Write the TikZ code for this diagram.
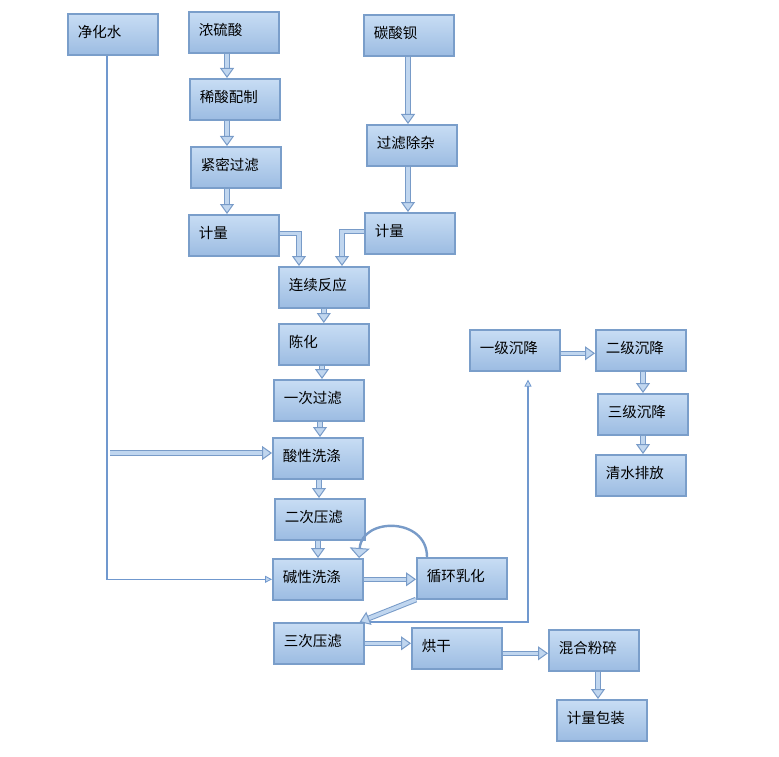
\documentclass[tikz,border=0pt]{standalone}
\usepackage{fontspec}
\newfontfamily\cjk{Noto Sans CJK SC}
\usetikzlibrary{arrows.meta}
\definecolor{boxborder}{RGB}{122,158,202}
\definecolor{boxtop}{RGB}{200,221,244}
\definecolor{boxbot}{RGB}{156,188,226}
\definecolor{arrborder}{RGB}{120,155,200}
\definecolor{arrfill}{RGB}{192,214,239}
\definecolor{thinline}{RGB}{112,152,206}
\tikzset{
  box/.style={draw=boxborder, line width=1.6pt, top color=boxtop, bottom color=boxbot,
    minimum width=90pt, minimum height=41pt, text width=70pt, inner xsep=10pt, inner ysep=0pt,
    align=left, anchor=north west, font=\cjk\fontsize{14.5}{17}\selectfont,
    text height=12pt, text depth=6pt},
  hollow/.style={draw=arrborder, line width=1pt, double=arrfill, double distance=3.6pt,
    -{Triangle[length=10pt,width=14pt,fill=arrfill,line width=1pt]}},
  arcarrow/.style={draw=arrborder, line width=2.4pt,
    -{Triangle[length=10pt,width=20pt,fill=arrfill,line width=1pt]}},
  thinarrow/.style={draw=thinline, line width=1.5pt,
    -{Triangle[length=7pt,width=7pt,fill=arrfill,line width=0.8pt]}},
}
\begin{document}
\begin{tikzpicture}[x=1pt,y=-1pt]
\useasboundingbox (0,0) rectangle (779,757);
% boxes
\node[box] (jh) at (67,13) {净化水};
\node[box] (ns) at (188,11) {浓硫酸};
\node[box] (tb) at (363,14) {碳酸钡};
\node[box] (xs) at (189,78) {稀酸配制};
\node[box] (gl) at (366,124) {过滤除杂};
\node[box] (jm) at (190,146) {紧密过滤};
\node[box] (jl1) at (188,214) {计量};
\node[box] (jl2) at (364,212) {计量};
\node[box] (lx) at (278,266) {连续反应};
\node[box] (ch) at (278,323) {陈化};
\node[box] (yc) at (273,379) {一次过滤};
\node[box] (sx) at (272,437) {酸性洗涤};
\node[box] (ec) at (274,498) {二次压滤};
\node[box] (jx) at (272,558) {碱性洗涤};
\node[box] (xh) at (416,557) {循环乳化};
\node[box] (sc) at (273,622) {三次压滤};
\node[box] (hg) at (411,627) {烘干};
\node[box] (hh) at (548,629) {混合粉碎};
\node[box] (jb) at (556,699) {计量包装};
\node[box] (y1) at (469,329) {一级沉降};
\node[box] (y2) at (595,329) {二级沉降};
\node[box] (y3) at (597,393) {三级沉降};
\node[box] (qs) at (595,454) {清水排放};
% column coordinates
\coordinate (cA) at (227,0);
\coordinate (cB) at (408,0);
\coordinate (cC) at (299,0);
\coordinate (cD) at (342,0);
\coordinate (cE) at (322,0);
\coordinate (cF) at (320,0);
\coordinate (cF2) at (319,0);
\coordinate (cF3) at (318,0);
\coordinate (cG) at (427,0);
\coordinate (cH) at (359,0);
\coordinate (cI) at (598,0);
\coordinate (cJ) at (643,0);
\coordinate (cK) at (528,0);
\coordinate (cL) at (107,0);
\coordinate (w1) at (110,453);
% thin lines
\draw[thinarrow] (jh.south -| cL) |- (jx.west);
\draw[thinarrow, shorten >=8pt] (sc.north east) -| (y1.south -| cK);
% hollow arrows
\draw[hollow] (ns.south -| cA) -- (xs.north -| cA);
\draw[hollow] (xs.south -| cA) -- (jm.north -| cA);
\draw[hollow] (jm.south -| cA) -- (jl1.north -| cA);
\draw[hollow] (tb.south -| cB) -- (gl.north -| cB);
\draw[hollow] (gl.south -| cB) -- (jl2.north -| cB);
\draw[hollow] ([yshift=2pt]jl1.east) -| (lx.north -| cC);
\draw[hollow] ([yshift=2pt]jl2.west) -| (lx.north -| cD);
\draw[hollow] (lx.south) -- (ch.north);
\draw[hollow] (ch.south -| cE) -- (yc.north -| cE);
\draw[hollow] (yc.south -| cF) -- (sx.north -| cF);
\draw[hollow] (sx.south -| cF2) -- (ec.north -| cF2);
\draw[hollow] (ec.south -| cF3) -- (jx.north -| cF3);
\draw[hollow] (w1) -- (w1 -| sx.west);
\draw[hollow] (jx.east) -- (jx.east -| xh.west);
\draw[hollow] (xh.south west) -- ([xshift=-5pt]sc.north east);
\draw[hollow] (sc.east) -- (sc.east -| hg.west);
\draw[hollow] ([yshift=-5pt]hg.east) -- ([yshift=-5pt]hg.east -| hh.west);
\draw[hollow] (hh.south -| cI) -- (jb.north -| cI);
\draw[hollow] ([yshift=-3pt]y1.east) -- ([yshift=-3pt]y1.east -| y2.west);
\draw[hollow] (y2.south -| cJ) -- (y3.north -| cJ);
\draw[hollow] (y3.south -| cJ) -- (qs.north -| cJ);
% loop arrow
\draw[arcarrow] (xh.north -| cG) .. controls (427,517) and (362,517) .. (jx.north -| cH);
\end{tikzpicture}
\end{document}
